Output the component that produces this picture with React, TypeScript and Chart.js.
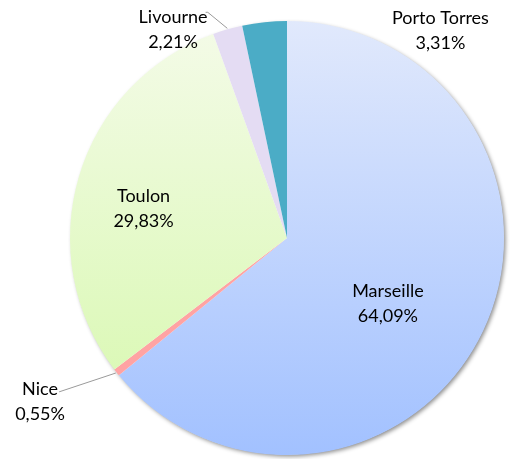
import React, { useEffect, useRef } from "react";
import { Chart, registerables } from "chart.js";

Chart.register(...registerables);

const categories = ["Marseille", "Nice", "Toulon", "Livourne", "Porto Torres"];
const shares = [64.09, 0.55, 29.83, 2.21, 3.31];
const shareLabels = ["64,09%", "0,55%", "29,83%", "2,21%", "3,31%"];

const FONT = "Lato, 'Open Sans', sans-serif";

// label anchor offsets relative to the pie centre, as fractions of radius
const labelOffsets: [number, number][] = [
  [0.465, 0.304],
  [-1.138, 0.756],
  [-0.661, -0.136],
  [-0.525, -0.959],
  [0.707, -0.954],
];

const shadowPlugin = {
  id: "pieShadow",
  beforeDatasetsDraw(chart: any) {
    const arc = chart.getDatasetMeta(0).data[0];
    if (!arc) return;
    const { ctx } = chart;
    ctx.save();
    ctx.shadowColor = "rgba(0,0,0,0.45)";
    ctx.shadowBlur = 4;
    ctx.shadowOffsetX = 2;
    ctx.shadowOffsetY = 2;
    ctx.fillStyle = "#ffffff";
    ctx.beginPath();
    ctx.arc(arc.x, arc.y, arc.outerRadius - 0.5, 0, Math.PI * 2);
    ctx.fill();
    ctx.restore();
  },
};

const labelPlugin = {
  id: "pieLabels",
  afterDatasetsDraw(chart: any) {
    const meta = chart.getDatasetMeta(0);
    const first = meta.data[0];
    if (!first) return;
    const cx = first.x;
    const cy = first.y;
    const r = first.outerRadius;
    const { ctx } = chart;
    ctx.save();
    ctx.strokeStyle = "#9a9a9a";
    ctx.lineWidth = 1;
    const lineFor = (i: number, sx: number, sy: number) => {
      const a = meta.data[i];
      const mid = (a.startAngle + a.endAngle) / 2;
      const ex = cx + Math.cos(mid) * (r + 1);
      const ey = cy + Math.sin(mid) * (r + 1);
      ctx.beginPath();
      ctx.moveTo(sx, sy);
      ctx.lineTo(ex, ey);
      ctx.stroke();
    };
    lineFor(1, cx - 1.05 * r, cy + 0.709 * r);
    lineFor(3, cx - 0.365 * r, cy - 1.04 * r);
    ctx.beginPath();
    ctx.moveTo(cx - 0.365 * r, cy - 1.04 * r);
    ctx.lineTo(cx - 0.375 * r, cy - 1.04 * r);
    ctx.stroke();

    ctx.fillStyle = "#000000";
    ctx.font = `18px ${FONT}`;
    ctx.textAlign = "center";
    ctx.textBaseline = "middle";
    categories.forEach((name, i) => {
      const [fx, fy] = labelOffsets[i];
      const x = cx + fx * r;
      const y = cy + fy * r;
      ctx.fillText(name, x, y - 12.5);
      ctx.fillText(shareLabels[i], x, y + 12.5);
    });
    ctx.restore();
  },
};

export default function App() {
  const ref = useRef<HTMLCanvasElement>(null);
  useEffect(() => {
    document.body.style.margin = "0";
    const canvas = ref.current!;
    const grad = (ctx: any, area: any, top: string, bottom: string) => {
      const g = ctx.createLinearGradient(0, area.top, 0, area.bottom);
      g.addColorStop(0, top);
      g.addColorStop(1, bottom);
      return g;
    };
    const chart = new Chart(canvas, {
      type: "pie",
      data: {
        labels: categories,
        datasets: [
          {
            data: shares,
            borderWidth: 0,
            backgroundColor: (c: any) => {
              const area = c.chart.chartArea;
              const ctx = c.chart.ctx;
              if (!area) return "#ccc";
              switch (c.dataIndex) {
                case 0:
                  return grad(ctx, area, "#e1e9fc", "#a2c1ff");
                case 1:
                  return "#ffa3a3";
                case 2:
                  return grad(ctx, area, "#f4fbe8", "#d6f8ac");
                case 3:
                  return "#e4dcf3";
                default:
                  return "#4bacc6";
              }
            },
          },
        ],
      },
      options: {
        responsive: false,
        animation: false,
        layout: { padding: { top: 21, bottom: 4, left: 70, right: 11 } },
        plugins: {
          legend: { display: false },
          tooltip: { enabled: false },
        },
      },
      plugins: [shadowPlugin, labelPlugin],
    });
    return () => chart.destroy();
  }, []);
  return (
    <div style={{ width: 515, height: 459 }}>
      <canvas ref={ref} width={515} height={459} />
    </div>
  );
}
